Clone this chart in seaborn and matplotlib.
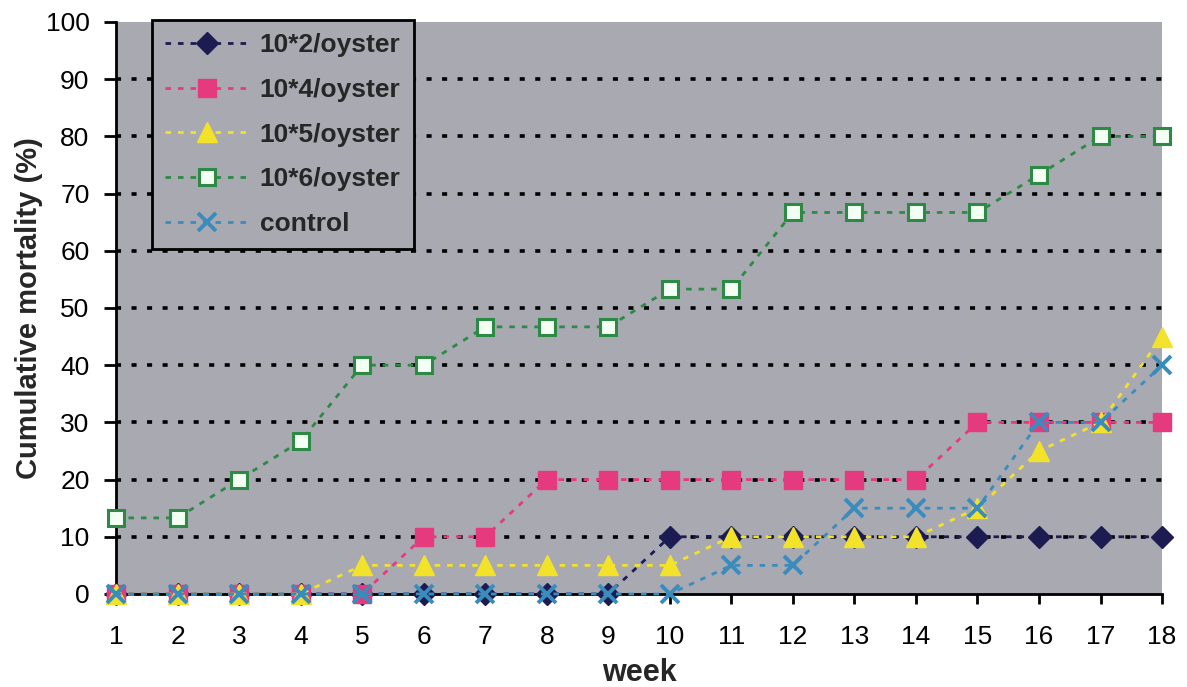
import matplotlib
matplotlib.use("Agg")
import matplotlib.pyplot as plt
import seaborn as sns

weeks = list(range(1, 19))
dose_1e2 = [0, 0, 0, 0, 0, 0, 0, 0, 0, 10, 10, 10, 10, 10, 10, 10, 10, 10]
dose_1e4 = [0, 0, 0, 0, 0, 10, 10, 20, 20, 20, 20, 20, 20, 20, 30, 30, 30, 30]
dose_1e5 = [0, 0, 0, 0, 5, 5, 5, 5, 5, 5, 10, 10, 10, 10, 15, 25, 30, 45]
dose_1e6 = [13.3, 13.3, 20, 26.7, 40, 40, 46.7, 46.7, 46.7, 53.3, 53.3,
            66.7, 66.7, 66.7, 66.7, 73.3, 80, 80]
control = [0, 0, 0, 0, 0, 0, 0, 0, 0, 0, 5, 5, 15, 15, 15, 30, 30, 40]

series_names = ["10*2/oyster", "10*4/oyster", "10*5/oyster", "10*6/oyster", "control"]
series_values = [dose_1e2, dose_1e4, dose_1e5, dose_1e6, control]

styles = {
    "10*2/oyster": dict(color="#1c1c52", marker="D", ms=11, mfc="#1c1c52", mec="#1c1c52", mew=1),
    "10*4/oyster": dict(color="#e63a7e", marker="s", ms=13, mfc="#e63a7e", mec="#e63a7e", mew=1),
    "10*5/oyster": dict(color="#f2e22a", marker="^", ms=14, mfc="#f2e22a", mec="#f2e22a", mew=1),
    "10*6/oyster": dict(color="#2d8a45", marker="s", ms=12, mfc="#f4fff4", mec="#2d8a45", mew=2.2),
    "control": dict(color="#3a8cbc", marker="x", ms=13, mfc="#3a8cbc", mec="#3a8cbc", mew=2.8),
}

sns.set_theme(style="white")
plt.rcParams["font.family"] = ["Liberation Sans", "DejaVu Sans"]

fig = plt.figure(figsize=(11.87, 6.87), dpi=100)
ax = fig.add_axes([0.0977, 0.1354, 0.8813, 0.8326])
ax.set_facecolor("#a9a9b2")

# horizontal dashed gridlines
for y in range(10, 100, 10):
    ax.axhline(y, color="black", lw=2.6, linestyle=(0, (1.4, 2.9)), zorder=1)

for name, vals in zip(series_names, series_values):
    st = styles[name]
    sns.lineplot(x=weeks, y=vals, ax=ax, label=name, color=st["color"],
                 linestyle=(0, (2, 2.5)), lw=2.0, marker=st["marker"],
                 markersize=st["ms"], markerfacecolor=st["mfc"],
                 markeredgecolor=st["mec"], markeredgewidth=st["mew"],
                 clip_on=False, zorder=3)

ax.set_xlim(1, 18)
ax.set_ylim(0, 100)
ax.set_xticks(weeks)
ax.set_yticks(range(0, 101, 10))
ax.tick_params(axis="x", direction="out", length=7, width=2, labelsize=19,
               bottom=True, colors="black", pad=15)
ax.tick_params(axis="y", direction="out", length=9, width=2, labelsize=19,
               left=True, colors="black", pad=10)
for side in ["top", "right"]:
    ax.spines[side].set_visible(False)
for side in ["left", "bottom"]:
    ax.spines[side].set_color("black")
    ax.spines[side].set_linewidth(2)

ax.set_xlabel("week", fontsize=22, fontweight="bold", labelpad=7)
ax.set_ylabel("Cumulative mortality (%)", fontsize=21, fontweight="bold", labelpad=2)

leg = ax.legend(loc="upper left", bbox_to_anchor=(0.034, 1.003), frameon=True,
                fancybox=False, edgecolor="black", facecolor="#a9a9b2",
                framealpha=1, prop=dict(size=19, weight="bold"),
                handlelength=3.2, labelspacing=0.78, borderpad=0.5,
                handletextpad=0.4, borderaxespad=0)
leg.get_frame().set_linewidth(2)

fig.savefig("out.png", dpi=100, facecolor="white")
